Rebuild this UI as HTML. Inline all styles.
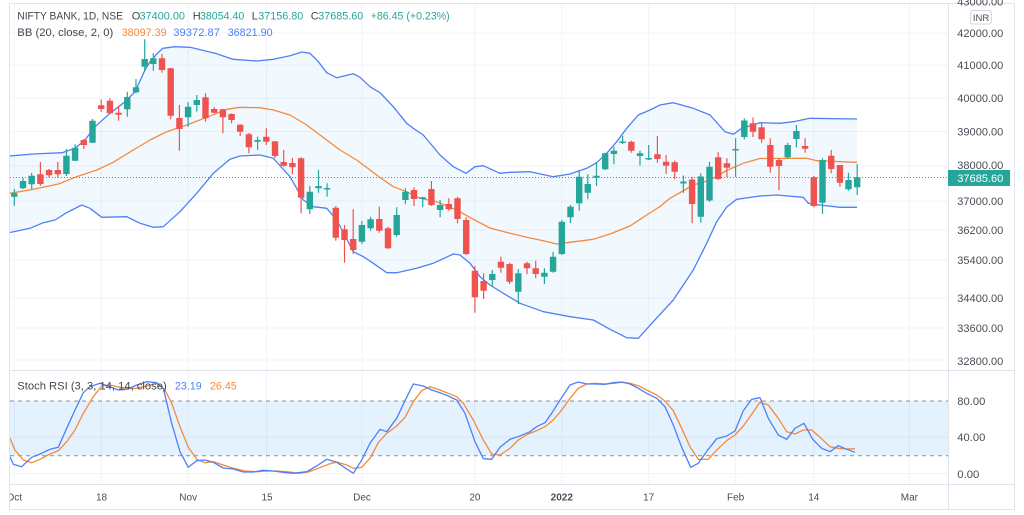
<!DOCTYPE html>
<html><head><meta charset="utf-8"><style>
html,body{margin:0;padding:0;background:#fff;overflow:hidden;}
svg{display:block;font-family:"Liberation Sans",sans-serif;}
</style></head><body>
<svg width="1024" height="515" viewBox="0 0 1024 515" xmlns="http://www.w3.org/2000/svg">
<defs>
<clipPath id="cm"><rect x="10" y="4" width="938" height="366"/></clipPath>
<clipPath id="cs"><rect x="10" y="371" width="938" height="113"/></clipPath>
<clipPath id="ct"><rect x="10" y="485" width="938" height="24"/></clipPath>
</defs>
<rect x="0" y="0" width="1024" height="515" fill="#fff"/>
<!-- grid -->
<g stroke="#f0f3fa" stroke-width="1">
<path d="M10 33H948M10 65H948M10 98H948M10 131.5H948M10 166H948M10 201H948M10 230H948M10 260H948M10 298H948M10 328H948M10 360H948M10 437H948M10 473.5H948"/>
<path d="M14.3 4V484M101.2 4V484M188.1 4V484M266.5 4V484M361.9 4V484M474.9 4V484M561.8 4V484M648.7 4V484M735.6 4V484M813.8 4V484M909.4 4V484"/>
</g>
<g clip-path="url(#cm)">
<!-- BB fill -->
<polygon fill="rgba(33,150,243,0.06)" points="9,156 33,154 62,152.7 75,148.3 85,140 95,126.7 110,113.3 125,101.7 135,91.7 145,70 150,61.7 158,52.7 163,48.3 175,46.7 190,47.3 215,53.3 233,59.3 256.7,61 273.3,59.3 290,55.7 301.7,52 310,53.3 318.3,61.7 326.7,72.7 336.7,77.7 353.3,73.7 360,77.3 370,86.7 380,92.7 393.3,106.7 406.7,123.3 413.3,128.3 423.3,135 440,155 453.3,166.7 466,173.3 475,166.7 483.3,165.7 500,173.3 510,172.3 530,171.7 553.3,176.7 570,174 586.7,168.3 596.7,162.7 606.7,153.3 616.7,141.7 626.7,128.3 638.3,115 650,110 660,105 673.3,102.7 693.3,108.3 710,115 725,131.7 733.3,134.3 741.7,128.3 760,122.7 780,123.3 793.3,121.7 810,118.3 857,119 857,207.3 840,207.3 820,205 808.3,203.3 803.3,197.3 776.7,195 760,196 736.7,199.3 726.7,207 716.7,221.7 706.7,243.3 693.3,270 673.3,300 653.3,321.7 638.3,338.3 626.7,337.7 610,329.3 593.3,320 570,316.7 543.3,311.7 520,303.3 503.3,293.3 490,285 480,276.7 470,263.3 460,255 453.3,254 433.3,263.3 416.7,268.3 396.7,272.7 386.7,272.7 373.3,263.3 363.3,256.7 353.3,251.7 336.7,220 326.7,208.3 313.3,206.7 303.3,200 290,176.7 273.3,158.3 260,155 240,156 230,159.3 213.3,173.3 196.7,193.3 180,211.7 163.3,226.7 153.3,227.3 140,223.3 126.7,216.7 101.7,217.3 90,208.3 81.7,205 66.7,212.7 55,220 43.3,222.7 30,228.3 9,232.7"/>
<!-- upper -->
<polyline fill="none" stroke="#4f80f5" stroke-width="1.3" stroke-linejoin="round" points="9,156 33,154 62,152.7 75,148.3 85,140 95,126.7 110,113.3 125,101.7 135,91.7 145,70 150,61.7 158,52.7 163,48.3 175,46.7 190,47.3 215,53.3 233,59.3 256.7,61 273.3,59.3 290,55.7 301.7,52 310,53.3 318.3,61.7 326.7,72.7 336.7,77.7 353.3,73.7 360,77.3 370,86.7 380,92.7 393.3,106.7 406.7,123.3 413.3,128.3 423.3,135 440,155 453.3,166.7 466,173.3 475,166.7 483.3,165.7 500,173.3 510,172.3 530,171.7 553.3,176.7 570,174 586.7,168.3 596.7,162.7 606.7,153.3 616.7,141.7 626.7,128.3 638.3,115 650,110 660,105 673.3,102.7 693.3,108.3 710,115 725,131.7 733.3,134.3 741.7,128.3 760,122.7 780,123.3 793.3,121.7 810,118.3 857,119"/>
<!-- lower -->
<polyline fill="none" stroke="#4f80f5" stroke-width="1.3" stroke-linejoin="round" points="857,207.3 840,207.3 820,205 808.3,203.3 803.3,197.3 776.7,195 760,196 736.7,199.3 726.7,207 716.7,221.7 706.7,243.3 693.3,270 673.3,300 653.3,321.7 638.3,338.3 626.7,337.7 610,329.3 593.3,320 570,316.7 543.3,311.7 520,303.3 503.3,293.3 490,285 480,276.7 470,263.3 460,255 453.3,254 433.3,263.3 416.7,268.3 396.7,272.7 386.7,272.7 373.3,263.3 363.3,256.7 353.3,251.7 336.7,220 326.7,208.3 313.3,206.7 303.3,200 290,176.7 273.3,158.3 260,155 240,156 230,159.3 213.3,173.3 196.7,193.3 180,211.7 163.3,226.7 153.3,227.3 140,223.3 126.7,216.7 101.7,217.3 90,208.3 81.7,205 66.7,212.7 55,220 43.3,222.7 30,228.3 9,232.7"/>
<!-- basis -->
<polyline fill="none" stroke="#f7893b" stroke-width="1.3" stroke-linejoin="round" points="9,193.5 33.3,189.3 58.3,184 76.7,176.7 96.7,170 113.3,162.3 133.3,150 150,140 166.7,131.7 186.7,125 206.7,117.3 226.7,109.3 240,107.3 260,107.7 273.3,110 290,115 306.7,125 323.3,137.5 340,150 356.7,160 380,177.5 393.3,186.7 406.7,191.7 420,198.3 436.7,201.7 456.7,210 473.3,219.3 490,228 510,233.3 526.7,237.3 543.3,240.7 556.7,244 566.7,242.7 593.3,239.3 610,234 630,226 646.7,215 660,206.5 670,198.3 693.3,185 710,180 726.7,170.5 743.3,163.3 760,158.5 793.3,158.3 806.7,158.3 816.7,160.7 857,162.3"/>
<!-- wicks -->
<path fill="none" stroke="#26a69a" stroke-width="1.2" d="M14.3 189V205.7M23 177.7V189M31.7 173V189M66.4 149V176M75.1 144.3V161M92.5 119V143.3M127.3 91.7V116.7M136 79V93.3M144.7 39.3V71.7M153.3 53.3V70.7M188.1 102V126.7M196.8 95V111.7M257.6 136.7V150M309.8 186V214M318.5 169.7V192.7M327.1 183.3V196.7M361.9 221V244M370.6 216.7V230.7M396.7 207.3V236.7M405.4 188.3V204.3M422.7 196.7V207.3M440.1 200V217.3M492.3 270V286.7M518.3 269V304M544.4 268.3V284M553.1 251.7V272.7M561.8 220V255M570.5 205V223.3M579.2 170V210.7M587.8 174.3V199.3M596.5 162.3V186M605.2 152.7V170M613.9 146.7V164.3M622.6 136V144M640 150.7V165.7M648.7 145V160M683.4 175.5V193M700.8 173.3V222.7M709.5 161.7V201.7M735.6 138.3V177M744.3 118.3V139.5M787.7 142.7V159M796.4 125V147.3M822.5 158.3V214M848.5 172.7V190.7M857.2 164V195"/>
<path fill="none" stroke="#ef5350" stroke-width="1.2" d="M40.4 162V185.7M49.1 169V177.7M57.8 162V177.7M83.8 139V149M101.2 99.3V111.7M109.9 98.3V114M118.6 106V120.7M162 54V72.7M170.7 67.7V119.3M179.4 105V150.7M205.5 93.3V121.7M214.2 107.3V113.3M222.9 108.7V133.3M231.6 113.3V123.3M240.2 124.3V136M248.9 133V153.3M266.3 128.3V145M275 141.3V158.3M283.7 150V166.7M292.4 157.7V174.3M301.1 157.3V213.3M335.8 206V240.7M344.5 225V262.7M353.2 209.3V254M379.3 206.7V232.7M388 226.7V249M414 187.3V206M431.4 181V206M448.8 198.3V210.7M457.5 196.7V223.3M466.2 217.3V255M474.9 266V312.7M483.6 273.3V299M500.9 256.7V272.7M509.6 262.7V284M527 261.7V274M535.7 260.7V278.3M631.3 140.7V152.7M657.4 136V162.7M666.1 155V174M674.7 160.7V179.3M692.1 176.7V223.3M718.2 152.3V180M726.9 158.3V177.3M753 117.5V137M761.6 122.3V142.7M770.3 138.3V172.7M779 158.3V190M805.1 138.3V152.7M813.8 176V207.3M831.2 150V173.3M839.9 165V186.7"/>
<!-- bodies -->
<path fill="#26a69a" d="M11.1 193.3h6.4V196.7h-6.4ZM19.8 181h6.4V188.3h-6.4ZM28.5 175.7h6.4V184.3h-6.4ZM63.2 155.7h6.4V174h-6.4ZM71.9 147.7h6.4V160.7h-6.4ZM89.3 120.7h6.4V142.7h-6.4ZM124.1 97h6.4V109.3h-6.4ZM132.8 87.3h6.4V92.3h-6.4ZM141.5 59h6.4V66.7h-6.4ZM150.1 58.3h6.4V64h-6.4ZM184.9 106.7h6.4V117.3h-6.4ZM193.6 100h6.4V105h-6.4ZM254.4 140h6.4V141.7h-6.4ZM306.6 191.7h6.4V209.3h-6.4ZM315.3 186h6.4V188.3h-6.4ZM323.9 188h6.4V189.5h-6.4ZM358.7 225h6.4V241.7h-6.4ZM367.4 219.3h6.4V228.3h-6.4ZM393.5 215h6.4V235h-6.4ZM402.2 191.7h6.4V200h-6.4ZM419.5 197.3h6.4V199h-6.4ZM436.9 205h6.4V210h-6.4ZM489.1 274h6.4V280h-6.4ZM515.1 273.3h6.4V291.7h-6.4ZM541.2 272.7h6.4V276.7h-6.4ZM549.9 256.7h6.4V271.7h-6.4ZM558.6 221.7h6.4V254h-6.4ZM567.3 206.7h6.4V217.3h-6.4ZM576 176.7h6.4V203.3h-6.4ZM584.6 184h6.4V192.7h-6.4ZM593.3 175.7h6.4V177.7h-6.4ZM602 153.3h6.4V169.3h-6.4ZM610.7 150.7h6.4V154h-6.4ZM619.4 141.5h6.4V143h-6.4ZM636.8 153.3h6.4V156h-6.4ZM645.5 158h6.4V159.5h-6.4ZM680.2 181.5h6.4V183.5h-6.4ZM697.6 176.5h6.4V216.7h-6.4ZM706.3 166.7h6.4V200.5h-6.4ZM732.4 149h6.4V150.5h-6.4ZM741.1 120.5h6.4V137h-6.4ZM784.5 145h6.4V157.3h-6.4ZM793.2 131h6.4V139h-6.4ZM819.3 160h6.4V202.7h-6.4ZM845.3 180h6.4V189.3h-6.4ZM854 177.3h6.4V187.3h-6.4Z"/>
<path fill="#ef5350" d="M37.2 174.3h6.4V184h-6.4ZM45.9 170h6.4V175.3h-6.4ZM54.6 170h6.4V174.3h-6.4ZM80.6 140h6.4V145h-6.4ZM98 105.3h6.4V109h-6.4ZM106.7 100.7h6.4V113.3h-6.4ZM115.4 112.7h6.4V114.7h-6.4ZM158.8 58.3h6.4V70h-6.4ZM167.5 68.3h6.4V115.7h-6.4ZM176.2 118h6.4V129h-6.4ZM202.3 97.3h6.4V118.3h-6.4ZM211 109h6.4V112.7h-6.4ZM219.7 109.3h6.4V117.3h-6.4ZM228.4 114h6.4V120h-6.4ZM237 124.7h6.4V131.7h-6.4ZM245.7 134.3h6.4V147.3h-6.4ZM263.1 136.7h6.4V141.7h-6.4ZM271.8 141.3h6.4V156h-6.4ZM280.5 162h6.4V165.7h-6.4ZM289.2 163h6.4V167.3h-6.4ZM297.9 158.3h6.4V197.7h-6.4ZM332.6 207.7h6.4V237.7h-6.4ZM341.3 229.3h6.4V240h-6.4ZM350 239h6.4V250h-6.4ZM376.1 219h6.4V230.7h-6.4ZM384.8 228.3h6.4V248.3h-6.4ZM410.8 190h6.4V199h-6.4ZM428.2 189h6.4V205h-6.4ZM445.6 204h6.4V209.3h-6.4ZM454.3 198.3h6.4V219h-6.4ZM463 220h6.4V254h-6.4ZM471.7 270.7h6.4V297.3h-6.4ZM480.4 281h6.4V290.7h-6.4ZM497.7 261.7h6.4V267.7h-6.4ZM506.4 264h6.4V281.7h-6.4ZM523.8 263.3h6.4V268.3h-6.4ZM532.5 268.3h6.4V274h-6.4ZM628.1 141.7h6.4V150.7h-6.4ZM654.2 154.3h6.4V159h-6.4ZM662.9 161.7h6.4V165.7h-6.4ZM671.5 162.3h6.4V171.7h-6.4ZM688.9 179.5h6.4V204h-6.4ZM715 157.3h6.4V179h-6.4ZM723.7 163.3h6.4V167.7h-6.4ZM749.8 123.3h6.4V131.7h-6.4ZM758.4 127.3h6.4V139.2h-6.4ZM767.1 145h6.4V166.7h-6.4ZM775.8 160h6.4V166h-6.4ZM801.9 146h6.4V148.7h-6.4ZM810.6 177.3h6.4V206h-6.4ZM828 155.7h6.4V169h-6.4ZM836.7 165h6.4V182.7h-6.4Z"/>
<!-- last price line -->
<path d="M10 177.5H948" stroke="#26a69a" stroke-width="1" stroke-dasharray="1,2"/>
</g>
<!-- stoch pane -->
<g clip-path="url(#cs)">
<rect x="10" y="401" width="938" height="54.7" fill="rgba(33,150,243,0.12)"/>
<path d="M10 401H948M10 455.7H948" stroke="#8a8d96" stroke-width="1" stroke-dasharray="4,4"/>
<polyline fill="none" stroke="#f7893b" stroke-width="1.3" stroke-linejoin="round" points="10,438.3 15,450 23.3,460 31.7,462.7 40,459.3 50,454 58.3,450.7 66.7,441.7 75,430 83.3,413.3 93.3,396.7 101.7,386 110,385 120,387.3 128.3,388.3 136.7,388.3 146.7,386 156.7,383.3 165,390 171.7,403.3 180,426.7 188.3,447.3 196.7,459.3 205,462.7 213.3,461.7 223.3,465 233.3,468.3 245,471 256.7,471.7 266.7,471 276.7,471 286.7,471.7 298.3,473.3 308.3,472 318.3,468.3 328.3,464.3 336.7,462 346.7,465 353.3,468.3 361.7,467.3 370,458.3 378.3,442.7 386.7,433.3 396.7,426 405,417.3 413.3,401.7 421.7,390.7 430,386.7 440,390 448.3,393.3 456.7,396.7 463.3,403.3 473.3,420 483.3,440 491.7,454 500,455 510,448.3 518.3,440 528.3,434 536.7,430.7 545,426.7 553.3,420 561.7,410 570,398.3 578.3,388.3 586.7,384 595,383.3 605,384 613.3,383.3 621.7,382.3 630,383.3 638.3,385.7 646.7,390 656.7,395 665,401 673.3,410.7 681.7,428.3 690,446.7 698.3,459.3 708.3,459.3 716.7,450 726.7,440.7 735,435 743.3,426 751.7,414.3 760,402.3 768.3,405 778.3,418.3 786.7,431.7 795,434 803.3,430 811.7,430 820,437.3 830,446.7 838.3,448.3 846.7,449 855,448.7"/>
<polyline fill="none" stroke="#4f80f5" stroke-width="1.3" stroke-linejoin="round" points="10,456.7 13.3,464.3 21.7,466.7 31.7,457.3 40,454 50,449.3 58.3,447.3 66.7,428.3 75,410 83.3,392.7 90,386.7 100,383.3 110,386.7 118.3,390 126.7,389.3 136.7,385 146.7,381.7 156.7,382.7 163.3,388.3 171.7,423.3 180,451.7 188.3,467.3 196.7,460.7 205,460 213.3,462.3 223.3,468 233.3,469 243.3,472 253.3,472 263.3,470.3 273.3,471 283.3,472.3 293.3,473.3 306.7,471.7 316.7,466 326.7,459.3 336.7,462.3 343.3,466.7 353.3,473.3 361.7,460 370,443.3 380,429.3 386.7,431.7 396.7,418.3 405,400.7 413.3,384 423.3,386 431.7,390 440,392.7 448.3,396 456.7,400 465,413.3 475,441.7 483.3,458.7 491.7,459.3 500,447.3 510,439.3 520,436 530,431.7 536.7,426.7 545,422.7 551.7,413.3 560,400 570,385 578.3,382 586.7,384 595,384 605,384.3 613.3,382.7 621.7,382 630,384 638.3,388.3 646.7,393.3 656.7,398.3 665,406.7 673.3,425 681.7,447.3 690.7,467.3 698.3,463.3 708.3,449.3 716.7,438.7 726.7,436 735,431 743.3,410.7 751.7,399.3 760,397.7 768.3,418.3 778.3,435 786.7,439.3 795,428.3 804,423.3 812.7,439.3 821.7,448.3 830,451.7 838.3,445.7 846.7,449.3 855,452.3"/>
</g>
<!-- frame lines -->
<g stroke="#e0e3eb" stroke-width="1" fill="none">
<rect x="9.5" y="3.5" width="1005" height="506"/>
<path d="M948.5 3V510M9 370.5H1015M9 484.5H1015"/>
</g>
<!-- legends -->
<g font-size="11" fill="#434651">
<text x="17.3" y="19.3" textLength="105.7" lengthAdjust="spacingAndGlyphs">NIFTY BANK, 1D, NSE</text>
<text x="131.7" y="19.3">O</text>
<text x="139.5" y="19.3" fill="#26a69a" textLength="45.5" lengthAdjust="spacingAndGlyphs">37400.00</text>
<text x="192.7" y="19.3">H</text>
<text x="200" y="19.3" fill="#26a69a" textLength="44.3" lengthAdjust="spacingAndGlyphs">38054.40</text>
<text x="251.7" y="19.3">L</text>
<text x="258.3" y="19.3" fill="#26a69a" textLength="45" lengthAdjust="spacingAndGlyphs">37156.80</text>
<text x="310.7" y="19.3">C</text>
<text x="318.3" y="19.3" fill="#26a69a" textLength="45" lengthAdjust="spacingAndGlyphs">37685.60</text>
<text x="370.7" y="19.3" fill="#26a69a" textLength="79" lengthAdjust="spacingAndGlyphs">+86.45 (+0.23%)</text>
<text x="17.3" y="36" textLength="96" lengthAdjust="spacingAndGlyphs">BB (20, close, 2, 0)</text>
<text x="121.7" y="36" fill="#f7893b" textLength="45" lengthAdjust="spacingAndGlyphs">38097.39</text>
<text x="173.3" y="36" fill="#4f80f5" textLength="46.7" lengthAdjust="spacingAndGlyphs">39372.87</text>
<text x="227.7" y="36" fill="#4f80f5" textLength="45" lengthAdjust="spacingAndGlyphs">36821.90</text>
<text x="17.3" y="389.3" textLength="149.4" lengthAdjust="spacingAndGlyphs">Stoch RSI (3, 3, 14, 14, close)</text>
<text x="175" y="389.3" fill="#4f80f5" textLength="26.7" lengthAdjust="spacingAndGlyphs">23.19</text>
<text x="210" y="389.3" fill="#f7893b" textLength="26.7" lengthAdjust="spacingAndGlyphs">26.45</text>
</g>
<!-- price axis -->
<g font-size="11" fill="#4a4d57">
<text x="957.3" y="5.5" textLength="46" lengthAdjust="spacingAndGlyphs">43000.00</text>
<text x="957.3" y="37" textLength="46" lengthAdjust="spacingAndGlyphs">42000.00</text>
<text x="957.3" y="69" textLength="46" lengthAdjust="spacingAndGlyphs">41000.00</text>
<text x="957.3" y="102" textLength="46" lengthAdjust="spacingAndGlyphs">40000.00</text>
<text x="957.3" y="135.5" textLength="46" lengthAdjust="spacingAndGlyphs">39000.00</text>
<text x="957.3" y="169" textLength="46" lengthAdjust="spacingAndGlyphs">38000.00</text>
<text x="957.3" y="205" textLength="46" lengthAdjust="spacingAndGlyphs">37000.00</text>
<text x="957.3" y="234" textLength="46" lengthAdjust="spacingAndGlyphs">36200.00</text>
<text x="957.3" y="264" textLength="46" lengthAdjust="spacingAndGlyphs">35400.00</text>
<text x="957.3" y="302" textLength="46" lengthAdjust="spacingAndGlyphs">34400.00</text>
<text x="957.3" y="332" textLength="46" lengthAdjust="spacingAndGlyphs">33600.00</text>
<text x="957.3" y="365" textLength="46" lengthAdjust="spacingAndGlyphs">32800.00</text>
<text x="957.3" y="405" textLength="28" lengthAdjust="spacingAndGlyphs">80.00</text>
<text x="957.3" y="441" textLength="28" lengthAdjust="spacingAndGlyphs">40.00</text>
<text x="957.3" y="478" textLength="22" lengthAdjust="spacingAndGlyphs">0.00</text>
</g>
<rect x="948" y="170" width="62" height="16" fill="#26a69a"/>
<text x="957.3" y="182" font-size="11" fill="#ffffff" textLength="46" lengthAdjust="spacingAndGlyphs">37685.60</text>
<rect x="970.7" y="10.5" width="20.6" height="13.5" rx="2" fill="#fff" stroke="#d1d4dc" stroke-width="1"/>
<text x="981" y="20.8" font-size="9.5" fill="#4a4d57" text-anchor="middle">INR</text>
<!-- time axis -->
<g font-size="10" fill="#4a4d57" text-anchor="middle">
<g clip-path="url(#ct)"><text x="14.3" y="500.5">Oct</text></g>
<text x="101.5" y="500.5">18</text>
<text x="188.2" y="500.5">Nov</text>
<text x="267" y="500.5">15</text>
<text x="362" y="500.5">Dec</text>
<text x="474.9" y="500.5">20</text>
<text x="561.8" y="500.5" font-weight="bold">2022</text>
<text x="648.7" y="500.5">17</text>
<text x="735.6" y="500.5">Feb</text>
<text x="813.8" y="500.5">14</text>
<text x="909.4" y="500.5">Mar</text>
</g>
</svg>
</body></html>
